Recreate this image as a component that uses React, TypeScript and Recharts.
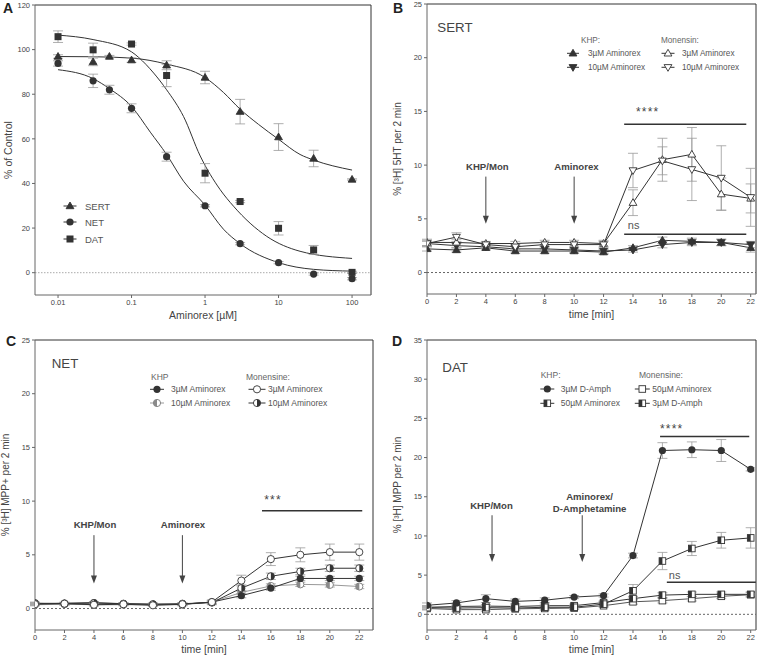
import React from 'react';
import { ComposedChart, Line, Scatter, XAxis, YAxis, ErrorBar, ReferenceLine, ReferenceDot, Legend } from 'recharts';

const FONT = '"Liberation Sans", Arial, sans-serif';
const INK = '#333';
const AXIS = '#666';
const TXT = '#444';
const ERR = '#9a9a9a';

// ---------- A: uptake inhibition (log dose) ----------
const sertDose = [0.01, 0.03, 0.05, 0.1, 0.3, 1, 3, 10, 30, 100];
const sertUptake = [96.9, 94.5, 96.9, 95.3, 93, 87.5, 72.2, 60.8, 51.2, 41.8];
const sertSem = [0.8, 1.7, 0.5, 1, 2, 2.8, 5.5, 6, 3.7, 0.3];
const netDose = [0.01, 0.03, 0.05, 0.1, 0.3, 1, 3, 10, 30, 100];
const netUptake = [93.8, 86, 82, 73.7, 52, 30, 13, 4.5, -0.6, -2.7];
const netSem = [1.2, 3, 2, 2, 2, 0.5, 0.5, 0.5, 0.5, 0.5];
const datDose = [0.01, 0.03, 0.1, 0.3, 1, 3, 10, 30, 100];
const datUptake = [105.8, 99.9, 102.5, 88.4, 44.6, 31.9, 19.9, 10.2, 0.15];
const datSem = [2.6, 3, 0.5, 5, 4.3, 0.5, 3, 2, 0.5];

// fitted curves
const sertFitDose = [0.01, 0.03, 0.1, 0.3, 1, 1.78, 3, 5.33, 10, 19.6, 30, 100];
const sertFit = [96.9, 96.8, 96.2, 93.5, 87.5, 80.8, 73.3, 66.5, 59.8, 53, 50.5, 46];
const netFitDose = [0.01, 0.03, 0.05, 0.1, 0.18, 0.3, 0.51, 1, 1.78, 3, 10, 30, 100];
const netFit = [91, 87, 82.5, 74.5, 63, 53, 41, 30.3, 19.5, 13, 4.5, 1.5, 0.7];
const datFitDose = [0.01, 0.03, 0.1, 0.125, 0.2, 0.3, 0.51, 0.86, 1.6, 2.44, 6.9, 19.6, 100];
const datFit = [106.5, 104.5, 99, 96.5, 89.5, 82, 70, 52.3, 37.3, 29.8, 16.3, 9.6, 6.4];

const doseTicks = [0.01, 0.1, 1, 10, 100];
const pctTicks = [0, 20, 40, 60, 80, 100, 120];

// ---------- B-D: release time courses ----------
const minutes = [0, 2, 4, 6, 8, 10, 12, 14, 16, 18, 20, 22];
const releaseTicks = [0, 5, 10, 15, 20, 25];
const datReleaseTicks = [0, 5, 10, 15, 20, 25, 30, 35];

const sertKhp3 = [2.2, 2.1, 2.3, 2.0, 2.0, 2.0, 1.9, 2.3, 3.0, 2.9, 2.8, 2.3];
const sertKhp3Sem = [0.2, 0.2, 0.2, 0.2, 0.2, 0.2, 0.2, 0.2, 0.3, 0.3, 0.3, 0.4];
const sertKhp10 = [2.7, 2.5, 2.4, 2.2, 2.2, 2.1, 2.0, 2.1, 2.6, 2.8, 2.8, 2.6];
const sertKhp10Sem = [0.2, 0.2, 0.2, 0.2, 0.2, 0.2, 0.2, 0.2, 0.3, 0.3, 0.3, 0.3];
const sertMon3 = [2.8, 2.8, 2.7, 2.7, 2.8, 2.8, 2.7, 6.5, 10.5, 11.0, 7.3, 6.9];
const sertMon3Sem = [0.3, 0.3, 0.2, 0.2, 0.2, 0.2, 0.3, 1.2, 2.0, 2.5, 1.5, 1.35];
const sertMon10 = [2.7, 3.3, 2.6, 2.4, 2.6, 2.6, 2.6, 9.5, 10.4, 9.6, 8.8, 7.0];
const sertMon10Sem = [0.3, 0.4, 0.2, 0.2, 0.2, 0.2, 0.3, 1.6, 1.3, 2.9, 3.0, 2.7];

const netKhp3 = [0.45, 0.5, 0.55, 0.45, 0.4, 0.4, 0.6, 1.2, 1.9, 2.8, 2.8, 2.8];
const netKhp3Sem = [0.1, 0.1, 0.1, 0.1, 0.1, 0.1, 0.1, 0.2, 0.2, 0.2, 0.2, 0.2];
const netKhp10 = [0.35, 0.4, 0.35, 0.35, 0.35, 0.35, 0.6, 1.5, 2.1, 2.25, 2.2, 2.05];
const netKhp10Sem = [0.1, 0.1, 0.1, 0.1, 0.1, 0.1, 0.1, 0.2, 0.2, 0.2, 0.2, 0.2];
const netMon3 = [0.4, 0.45, 0.35, 0.4, 0.3, 0.4, 0.6, 2.6, 4.6, 5.0, 5.25, 5.25];
const netMon3Sem = [0.1, 0.1, 0.1, 0.1, 0.1, 0.1, 0.2, 0.5, 0.6, 0.65, 0.75, 0.75];
const netMon10 = [0.5, 0.45, 0.5, 0.45, 0.4, 0.45, 0.55, 1.9, 3.0, 3.45, 3.75, 3.75];
const netMon10Sem = [0.1, 0.1, 0.1, 0.1, 0.1, 0.1, 0.2, 0.3, 0.3, 0.3, 0.3, 0.3];

const datKhpAmph = [1.15, 1.45, 2.0, 1.65, 1.8, 2.2, 2.4, 7.5, 20.9, 21.0, 20.9, 18.5];
const datKhpAmphSem = [0.3, 0.3, 0.5, 0.3, 0.3, 0.2, 0.2, 0.3, 1.0, 1.0, 1.4, 0.2];
const datKhpAmx = [0.9, 1.0, 1.05, 1.0, 1.1, 1.1, 1.5, 2.0, 2.45, 2.55, 2.55, 2.55];
const datKhpAmxSem = [0.2, 0.2, 0.2, 0.2, 0.2, 0.2, 0.2, 0.3, 0.3, 0.3, 0.3, 0.3];
const datMonAmx = [0.75, 0.6, 0.6, 0.7, 0.75, 0.8, 1.1, 1.6, 1.75, 2.0, 2.3, 2.5];
const datMonAmxSem = [0.2, 0.2, 0.2, 0.2, 0.2, 0.2, 0.2, 0.3, 0.3, 0.3, 0.3, 0.3];
const datMonAmph = [0.85, 0.8, 0.85, 0.8, 0.9, 0.9, 1.3, 3.0, 6.8, 8.4, 9.45, 9.75];
const datMonAmphSem = [0.2, 0.2, 0.2, 0.2, 0.2, 0.2, 0.3, 0.8, 1.1, 0.9, 1.0, 1.3];

type Kind =
  | 'triUp' | 'triDown' | 'triUpOpen' | 'triDownOpen'
  | 'circle' | 'circleOpen' | 'circleHalfLight' | 'circleHalfDark'
  | 'square' | 'squareOpen' | 'squareHalf';

function Mark({ kind, cx, cy }: { kind: Kind; cx?: number; cy?: number }) {
  if (cx == null || cy == null || isNaN(cx) || isNaN(cy)) return null;
  const r = 3.6;
  const sw = 0.9;
  switch (kind) {
    case 'triUp':
    case 'triUpOpen':
      return (
        <polygon
          points={`${cx},${cy - r - 0.4} ${cx + r + 0.3},${cy + r * 0.75} ${cx - r - 0.3},${cy + r * 0.75}`}
          fill={kind === 'triUp' ? INK : '#fff'} stroke={INK} strokeWidth={sw}
        />
      );
    case 'triDown':
    case 'triDownOpen':
      return (
        <polygon
          points={`${cx},${cy + r + 0.4} ${cx + r + 0.3},${cy - r * 0.75} ${cx - r - 0.3},${cy - r * 0.75}`}
          fill={kind === 'triDown' ? INK : '#fff'} stroke={INK} strokeWidth={sw}
        />
      );
    case 'circle':
      return <circle cx={cx} cy={cy} r={r} fill={INK} />;
    case 'circleOpen':
      return <circle cx={cx} cy={cy} r={r} fill="#fff" stroke={INK} strokeWidth={sw} />;
    case 'circleHalfLight':
      return (
        <g>
          <circle cx={cx} cy={cy} r={r} fill="#fff" stroke="#777" strokeWidth={sw} />
          <path d={`M${cx},${cy - r} A${r},${r} 0 0 0 ${cx},${cy + r} Z`} fill="#8a8a8a" />
        </g>
      );
    case 'circleHalfDark':
      return (
        <g>
          <circle cx={cx} cy={cy} r={r} fill="#fff" stroke={INK} strokeWidth={sw} />
          <path d={`M${cx},${cy - r} A${r},${r} 0 0 1 ${cx},${cy + r} Z`} fill={INK} />
        </g>
      );
    case 'square':
      return <rect x={cx - 3.5} y={cy - 3.5} width={7} height={7} fill={INK} />;
    case 'squareOpen':
      return <rect x={cx - 3.3} y={cy - 3.3} width={6.6} height={6.6} fill="#fff" stroke={INK} strokeWidth={sw} />;
    case 'squareHalf':
      return (
        <g>
          <rect x={cx - 3.3} y={cy - 3.3} width={6.6} height={6.6} fill="#fff" stroke={INK} strokeWidth={sw} />
          <rect x={cx - 3.3} y={cy - 3.3} width={3.3} height={6.6} fill={INK} />
        </g>
      );
    default:
      return null;
  }
}

const markDot = (kind: Kind) => (p: any) => <Mark key={`${kind}-${p.index}`} kind={kind} cx={p.cx} cy={p.cy} />;

const zip = (xs: number[], ys: number[], es?: number[]) =>
  xs.map((x, i) => ({ x, y: ys[i], e: es ? es[i] : 0 }));

const rowsOf = (series: Record<string, number[]>) =>
  minutes.map((t, i) => {
    const row: Record<string, number> = { t };
    Object.entries(series).forEach(([k, v]) => {
      row[k] = v[i];
    });
    return row;
  });

// ---------- legend boxes ----------
type KeyItem = { col: number; row: number; kind: Kind; text: string; line?: string };
type KeySpec = {
  fontSize: number;
  headY?: number;
  heads: { x: number; text: string }[];
  rows: number[];
  cols: { cx: number; half: number; tx: number }[];
  items: KeyItem[];
};

function KeyBox({ spec }: { spec: KeySpec }) {
  return (
    <svg width={210} height={60} style={{ overflow: 'visible', display: 'block', fontFamily: FONT }}>
      {spec.heads.map((h) => (
        <text key={h.text} x={h.x} y={spec.headY} dominantBaseline="central" fontSize={spec.fontSize} fill="#666">
          {h.text}
        </text>
      ))}
      {spec.items.map((it) => {
        const c = spec.cols[it.col];
        const y = spec.rows[it.row];
        return (
          <g key={it.text + it.col}>
            <line x1={c.cx - c.half} x2={c.cx + c.half} y1={y} y2={y} stroke={it.line || INK} strokeWidth={1} />
            <Mark kind={it.kind} cx={c.cx} cy={y} />
            <text x={c.tx} y={y} dominantBaseline="central" fontSize={spec.fontSize} fill="#555">
              {it.text}
            </text>
          </g>
        );
      })}
    </svg>
  );
}

const keyA: KeySpec = {
  fontSize: 9.5,
  heads: [],
  rows: [11, 27, 44],
  cols: [{ cx: 15, half: 6.5, tx: 30 }],
  items: [
    { col: 0, row: 0, kind: 'triUp', text: 'SERT' },
    { col: 0, row: 1, kind: 'circle', text: 'NET' },
    { col: 0, row: 2, kind: 'square', text: 'DAT' },
  ],
};
const keyB: KeySpec = {
  fontSize: 8.2,
  headY: 10,
  heads: [{ x: 21, text: 'KHP:' }, { x: 101, text: 'Monensin:' }],
  rows: [23.3, 37.3],
  cols: [{ cx: 13, half: 6, tx: 28 }, { cx: 108, half: 6.5, tx: 122 }],
  items: [
    { col: 0, row: 0, kind: 'triUp', text: '3µM Aminorex' },
    { col: 0, row: 1, kind: 'triDown', text: '10µM Aminorex' },
    { col: 1, row: 0, kind: 'triUpOpen', text: '3µM Aminorex' },
    { col: 1, row: 1, kind: 'triDownOpen', text: '10µM Aminorex' },
  ],
};
const keyC: KeySpec = {
  fontSize: 8.5,
  headY: 9,
  heads: [{ x: 11, text: 'KHP' }, { x: 106, text: 'Monensine:' }],
  rows: [21.3, 35],
  cols: [{ cx: 17, half: 7, tx: 31 }, { cx: 117, half: 8.5, tx: 128 }],
  items: [
    { col: 0, row: 0, kind: 'circle', text: '3µM Aminorex' },
    { col: 0, row: 1, kind: 'circleHalfLight', text: '10µM Aminorex', line: '#999' },
    { col: 1, row: 0, kind: 'circleOpen', text: '3µM Aminorex' },
    { col: 1, row: 1, kind: 'circleHalfDark', text: '10µM Aminorex' },
  ],
};
const keyD: KeySpec = {
  fontSize: 8.5,
  headY: 9,
  heads: [{ x: 10.7, text: 'KHP:' }, { x: 109, text: 'Monensine:' }],
  rows: [23, 37.3],
  cols: [{ cx: 17.3, half: 7, tx: 30.7 }, { cx: 112.3, half: 7.5, tx: 122.3 }],
  items: [
    { col: 0, row: 0, kind: 'circle', text: '3µM D-Amph' },
    { col: 0, row: 1, kind: 'squareHalf', text: '50µM Aminorex' },
    { col: 1, row: 0, kind: 'squareOpen', text: '50µM Aminorex' },
    { col: 1, row: 1, kind: 'squareHalf', text: '3µM D-Amph' },
  ],
};

// ---------- annotations ----------
type Arrow = { x: number; top: number; tip: number; labelX: number; labelY: number; lines: string[] };
type SigBar = { x1: number; x2: number; y: number; text: string; tx: number; ty: number; star: boolean };
type Title = { x: number; y: number; text: string };

const sertTitle: Title = { x: 0.7, y: 22.85, text: 'SERT' };
const netTitle: Title = { x: 1.13, y: 22.8, text: 'NET' };
const datTitle: Title = { x: 1.04, y: 31.5, text: 'DAT' };

const sertArrows: Arrow[] = [
  { x: 4, top: 8.93, tip: 4.53, labelX: 4.1, labelY: 9.93, lines: ['KHP/Mon'] },
  { x: 10, top: 8.93, tip: 4.53, labelX: 10.16, labelY: 9.93, lines: ['Aminorex'] },
];
const netArrows: Arrow[] = [
  { x: 4, top: 6.83, tip: 2.33, labelX: 4.07, labelY: 7.86, lines: ['KHP/Mon'] },
  { x: 10, top: 6.83, tip: 2.33, labelX: 10.04, labelY: 7.86, lines: ['Aminorex'] },
];
const datArrows: Arrow[] = [
  { x: 4.42, top: 12.64, tip: 6.68, labelX: 4.38, labelY: 13.9, lines: ['KHP/Mon'] },
  { x: 10.55, top: 12.64, tip: 6.68, labelX: 11.05, labelY: 15.07, lines: ['Aminorex/', 'D-Amphetamine'] },
];

const sertBars: SigBar[] = [
  { x1: 13.4, x2: 21.7, y: 13.8, text: '****', tx: 15.0, ty: 15.13, star: true },
  { x1: 13.4, x2: 21.7, y: 3.57, text: 'ns', tx: 14.04, ty: 4.44, star: false },
];
const netBars: SigBar[] = [{ x1: 15.4, x2: 22.2, y: 9.1, text: '***', tx: 16.15, ty: 10.28, star: true }];
const datBars: SigBar[] = [
  { x1: 15.84, x2: 21.9, y: 22.7, text: '****', tx: 16.63, ty: 23.9, star: true },
  { x1: 16.3, x2: 22.35, y: 4.1, text: 'ns', tx: 16.83, ty: 4.98, star: false },
];

const arrowShape = (p: any) => {
  const { x1, y1, x2, y2 } = p;
  return (
    <g>
      <line x1={x1} y1={y1} x2={x2} y2={y2 - 6} stroke="#444" strokeWidth={1} />
      <polygon points={`${x2 - 3},${y2 - 8} ${x2 + 3},${y2 - 8} ${x2},${y2}`} fill="#444" />
    </g>
  );
};

const textShape = (lines: string[], style: 'title' | 'arrow' | 'star' | 'ns') => (p: any) => {
  const { cx, cy } = p;
  if (style === 'star') {
    return (
      <text x={cx} y={cy + 6.3} textAnchor="middle" fontSize={12} letterSpacing={1.2} fill={TXT}>
        {lines[0]}
      </text>
    );
  }
  if (style === 'title') {
    return (
      <text x={cx} y={cy} dominantBaseline="central" fontSize={13.3} fill={TXT}>
        {lines[0]}
      </text>
    );
  }
  if (style === 'ns') {
    return (
      <text x={cx} y={cy} textAnchor="middle" dominantBaseline="central" fontSize={11} fill="#555">
        {lines[0]}
      </text>
    );
  }
  return (
    <text x={cx} y={cy} textAnchor="middle" dominantBaseline="central" fontSize={9.6} fontWeight="bold" fill={TXT}>
      {lines.map((l, i) => (
        <tspan key={l} x={cx} dy={i === 0 ? 0 : 12}>
          {l}
        </tspan>
      ))}
    </text>
  );
};

const tickFont = { fontSize: 7.5, fill: '#444' };

function renderNotes(title: Title, arrows: Arrow[], bars: SigBar[]) {
  const out: React.ReactNode[] = [];
  out.push(
    <ReferenceDot key="title" x={title.x} y={title.y} r={0} shape={textShape([title.text], 'title')} />
  );
  arrows.forEach((a, i) => {
    out.push(
      <ReferenceLine
        key={`arr${i}`}
        segment={[{ x: a.x, y: a.top }, { x: a.x, y: a.tip }]}
        shape={arrowShape}
        ifOverflow="visible"
      />
    );
    out.push(
      <ReferenceDot key={`arrl${i}`} x={a.labelX} y={a.labelY} r={0} shape={textShape(a.lines, 'arrow')} />
    );
  });
  bars.forEach((b, i) => {
    out.push(
      <ReferenceLine
        key={`bar${i}`}
        segment={[{ x: b.x1, y: b.y }, { x: b.x2, y: b.y }]}
        stroke="#333"
        strokeWidth={1.5}
        ifOverflow="visible"
      />
    );
    out.push(
      <ReferenceDot key={`barl${i}`} x={b.tx} y={b.ty} r={0} shape={textShape([b.text], b.star ? 'star' : 'ns')} />
    );
  });
  return out;
}

function PanelA() {
  const sertPts = zip(sertDose, sertUptake, sertSem);
  const netPts = zip(netDose, netUptake, netSem);
  const datPts = zip(datDose, datUptake, datSem);
  const xMax = 181;
  return (
    <ComposedChart width={384} height={330} margin={{ top: 5, right: 13, bottom: 0, left: 0 }}>
      <XAxis
        dataKey="x" type="number" scale="log" domain={[0.00486, xMax]} allowDataOverflow ticks={doseTicks}
        tick={tickFont} tickSize={3} stroke={AXIS} height={35}
        label={{ value: 'Aminorex [µM]', position: 'insideBottom', offset: 11.3, fontSize: 10.5, fill: TXT }}
      />
      <YAxis
        dataKey="y" type="number" domain={[-10, 120]} allowDataOverflow ticks={pctTicks}
        tick={tickFont} tickSize={3} stroke={AXIS} width={35}
        label={{ value: '% of Control', angle: -90, position: 'insideLeft', offset: 8.3, fontSize: 10.5, fill: TXT, style: { textAnchor: 'middle' } }}
      />
      <ReferenceLine y={120} stroke={INK} ifOverflow="visible" />
      <ReferenceLine x={xMax} stroke={INK} ifOverflow="visible" />
      <ReferenceLine y={0} stroke="#aaa" strokeDasharray="1.5 1.5" />
      <Line data={zip(sertFitDose, sertFit)} dataKey="y" type="monotone" stroke={INK} strokeWidth={1} dot={false} activeDot={false} isAnimationActive={false} />
      <Line data={zip(netFitDose, netFit)} dataKey="y" type="monotone" stroke={INK} strokeWidth={1} dot={false} activeDot={false} isAnimationActive={false} />
      <Line data={zip(datFitDose, datFit)} dataKey="y" type="monotone" stroke={INK} strokeWidth={1} dot={false} activeDot={false} isAnimationActive={false} />
      <Scatter data={sertPts} dataKey="y" shape={markDot('triUp')} isAnimationActive={false}>
        <ErrorBar dataKey="e" direction="y" width={5} stroke={ERR} strokeWidth={0.8} />
      </Scatter>
      <Scatter data={netPts} dataKey="y" shape={markDot('circle')} isAnimationActive={false}>
        <ErrorBar dataKey="e" direction="y" width={5} stroke={ERR} strokeWidth={0.8} />
      </Scatter>
      <Scatter data={datPts} dataKey="y" shape={markDot('square')} isAnimationActive={false}>
        <ErrorBar dataKey="e" direction="y" width={5} stroke={ERR} strokeWidth={0.8} />
      </Scatter>
      <Legend
        layout="vertical" align="center" verticalAlign="middle"
        wrapperStyle={{ left: 55, top: 195, width: 80, height: 56 }}
        content={() => <KeyBox spec={keyA} />}
      />
    </ComposedChart>
  );
}

type SeriesDef = { key: string; kind: Kind; stroke?: string };

function TimePanel(props: {
  width: number; height: number; top: number; yAxisW: number; xAxisH: number;
  xMax: number; yDomain: [number, number]; yTicks: number[]; yTitle: string; yTitleOff: number; xTitleOff: number;
  rows: Record<string, number>[]; series: SeriesDef[]; keySpec: KeySpec; keyPos: { left: number; top: number };
  title: Title; arrows: Arrow[]; bars: SigBar[];
}) {
  const p = props;
  return (
    <ComposedChart width={p.width} height={p.height} data={p.rows} margin={{ top: p.top, right: 11, bottom: 0, left: 0 }}>
      <XAxis
        dataKey="t" type="number" domain={[0, p.xMax]} allowDataOverflow ticks={minutes}
        tick={tickFont} tickSize={3} stroke={AXIS} height={p.xAxisH}
        label={{ value: 'time [min]', position: 'insideBottom', offset: p.xTitleOff, fontSize: 10.5, fill: TXT }}
      />
      <YAxis
        type="number" domain={p.yDomain} allowDataOverflow ticks={p.yTicks}
        tick={tickFont} tickSize={3} stroke={AXIS} width={p.yAxisW}
        label={{ value: p.yTitle, angle: -90, position: 'insideLeft', offset: p.yTitleOff, fontSize: 10, fill: TXT, style: { textAnchor: 'middle' } }}
      />
      <ReferenceLine y={p.yDomain[1]} stroke={INK} ifOverflow="visible" />
      <ReferenceLine x={p.xMax} stroke={INK} ifOverflow="visible" />
      <ReferenceLine y={0} stroke="#666" strokeDasharray="2 2" />
      {renderNotes(p.title, p.arrows, p.bars)}
      {p.series.map((s) => (
        <Line
          key={s.key} dataKey={s.key} stroke={s.stroke || INK} strokeWidth={1}
          dot={markDot(s.kind)} activeDot={false} isAnimationActive={false}
        >
          <ErrorBar dataKey={`${s.key}e`} direction="y" width={5} stroke={ERR} strokeWidth={0.8} />
        </Line>
      ))}
      <Legend
        layout="vertical" align="center" verticalAlign="middle"
        wrapperStyle={{ left: p.keyPos.left, top: p.keyPos.top, width: 210, height: 50 }}
        content={() => <KeyBox spec={p.keySpec} />}
      />
    </ComposedChart>
  );
}

export default function App() {
  const sertRows = rowsOf({
    khp3: sertKhp3, khp3e: sertKhp3Sem, khp10: sertKhp10, khp10e: sertKhp10Sem,
    mon3: sertMon3, mon3e: sertMon3Sem, mon10: sertMon10, mon10e: sertMon10Sem,
  });
  const netRows = rowsOf({
    khp10: netKhp10, khp10e: netKhp10Sem, khp3: netKhp3, khp3e: netKhp3Sem,
    mon10: netMon10, mon10e: netMon10Sem, mon3: netMon3, mon3e: netMon3Sem,
  });
  const datRows = rowsOf({
    monAmx: datMonAmx, monAmxe: datMonAmxSem, khpAmx: datKhpAmx, khpAmxe: datKhpAmxSem,
    monAmph: datMonAmph, monAmphe: datMonAmphSem, khpAmph: datKhpAmph, khpAmphe: datKhpAmphSem,
  });

  return (
    <div style={{ position: 'absolute', left: 0, top: 0, width: 767, height: 655, background: '#fff', fontFamily: FONT }}>
      <div style={{ position: 'absolute', left: 0, top: 0 }}>
        <PanelA />
      </div>
      <div style={{ position: 'absolute', left: 384, top: 0 }}>
        <TimePanel
          width={383} height={330} top={4} yAxisW={43} xAxisH={36} xMax={22.36}
          yDomain={[-2, 25]} yTicks={releaseTicks} yTitle="% [³H] 5HT per 2 min" yTitleOff={13} xTitleOff={12.3}
          rows={sertRows}
          series={[
            { key: 'khp3', kind: 'triUp' }, { key: 'khp10', kind: 'triDown' },
            { key: 'mon3', kind: 'triUpOpen' }, { key: 'mon10', kind: 'triDownOpen' },
          ]}
          keySpec={keyB} keyPos={{ left: 176, top: 30 }}
          title={sertTitle} arrows={sertArrows} bars={sertBars}
        />
      </div>
      <div style={{ position: 'absolute', left: 0, top: 330 }}>
        <TimePanel
          width={384} height={325} top={10} yAxisW={35} xAxisH={25} xMax={22.93}
          yDomain={[-2, 25]} yTicks={releaseTicks} yTitle="% [³H] MPP+ per 2 min" yTitleOff={5.5} xTitleOff={2.3}
          rows={netRows}
          series={[
            { key: 'khp10', kind: 'circleHalfLight', stroke: '#999' }, { key: 'khp3', kind: 'circle' },
            { key: 'mon10', kind: 'circleHalfDark' }, { key: 'mon3', kind: 'circleOpen' },
          ]}
          keySpec={keyC} keyPos={{ left: 140, top: 38 }}
          title={netTitle} arrows={netArrows} bars={netBars}
        />
      </div>
      <div style={{ position: 'absolute', left: 384, top: 330 }}>
        <TimePanel
          width={383} height={325} top={10} yAxisW={43} xAxisH={25} xMax={22.36}
          yDomain={[-2, 35]} yTicks={datReleaseTicks} yTitle="% [³H] MPP per 2 min" yTitleOff={13} xTitleOff={2.3}
          rows={datRows}
          series={[
            { key: 'monAmx', kind: 'squareOpen', stroke: '#555' }, { key: 'khpAmx', kind: 'squareHalf' },
            { key: 'monAmph', kind: 'squareHalf' }, { key: 'khpAmph', kind: 'circle' },
          ]}
          keySpec={keyD} keyPos={{ left: 146, top: 36 }}
          title={datTitle} arrows={datArrows} bars={datBars}
        />
      </div>
      <svg width={767} height={655} style={{ position: 'absolute', left: 0, top: 0, pointerEvents: 'none' }}>
        <g fontFamily={FONT} fontWeight="bold" fontSize={14} fill="#222">
          <text x={3} y={13}>A</text>
          <text x={393} y={13}>B</text>
          <text x={6} y={346}>C</text>
          <text x={392} y={346}>D</text>
        </g>
      </svg>
    </div>
  );
}
